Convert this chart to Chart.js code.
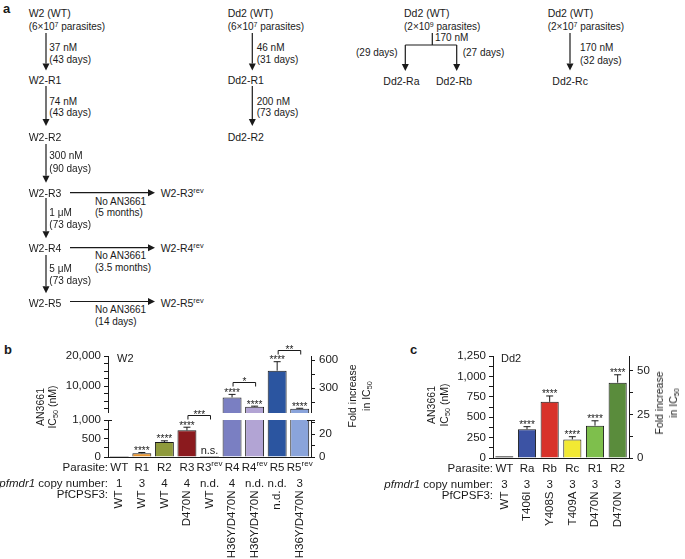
<!DOCTYPE html>
<html>
<head>
<meta charset="utf-8">
<script src="https://cdn.jsdelivr.net/npm/chart.js@4"></script>
<style>
body { margin: 0; background: #fff; }
#fig { position: relative; width: 685px; height: 559px; overflow: hidden; background: #fff;
       font-family: "Liberation Sans", Arial, sans-serif; color: #1a1a1a; }
.t { position: absolute; white-space: nowrap; line-height: 1; transform: translateY(-50%); font-size: 10.5px; }
.s { font-size: 10px; }
.lbl { position: absolute; font-weight: bold; font-size: 13px; line-height: 1; }
.rot { position: absolute; white-space: nowrap; text-align: center; font-size: 10.5px;
       transform: translate(-50%, -50%) rotate(-90deg); }
sup { font-size: 0.7em; vertical-align: 0.5em; line-height: 0; }
sub { font-size: 0.7em; vertical-align: -0.25em; line-height: 0; }
canvas { position: absolute; }
svg { position: absolute; left: 0; top: 0; }
</style>
</head>
<body>
<div id="fig">
  <svg id="scheme" width="685" height="330"></svg>
  <div class="lbl" style="left:3px;top:2px">a</div>
  <div class="lbl" style="left:4px;top:343px">b</div>
  <div class="lbl" style="left:410px;top:343px">c</div>

  <canvas id="bTop" width="380" height="83" style="left:0;top:330px"></canvas>
  <canvas id="bLow" width="380" height="164" style="left:0;top:395px"></canvas>
  <canvas id="cDd2" width="305" height="229" style="left:380px;top:330px"></canvas>

  <div class="t" style="left:117px;top:358px;font-size:11px">W2</div>
  <div class="t" style="left:501px;top:358px;font-size:11px">Dd2</div>
  <div class="rot" style="left:46px;top:407px;line-height:12px">AN3661<br>IC<sub>50</sub> (nM)</div>
  <div class="rot" style="left:359px;top:396px;line-height:14px">Fold increase<br>in IC<sub>50</sub></div>
  <div class="rot" style="left:438px;top:405px;line-height:13px">AN3661<br>IC<sub>50</sub> (nM)</div>
  <div class="rot" style="left:666px;top:403px;line-height:14px">Fold increase<br>in IC<sub>50</sub></div>
</div>

<script>
// ==========================================
// DONNÉES
// ==========================================

const ink = "#1a1a1a";
const FONT = '"Liberation Sans", Arial, sans-serif';

// panel b : lignée W2
const w2Names = ["WT", "R1", "R2", "R3", "R3", "R4", "R4", "R5", "R5"];
const w2Sup = ["", "", "", "", "rev", "", "rev", "", "rev"];
const w2IC50 = [30, 100, 405, 720, 30, 6200, 3100, 15100, 2450];
const w2Err = [0, 22, 32, 85, 0, 1000, 180, 3000, 120];
const w2Copy = ["1", "3", "4", "4", "n.d.", "4", "n.d.", "n.d.", "3"];
const w2Cpsf3 = ["WT", "WT", "WT", "D470N", "WT", "H36Y/D470N", "H36Y/D470N", "n.d.", "H36Y/D470N"];
const w2Stars = ["", "****", "****", "****", "n.s.", "****", "****", "****", "****"];
const w2Pairs = [[3, 4, "***"], [5, 6, "*"], [7, 8, "**"]];
const w2Colors = ["#111111", "#e8952f", "#8f9a3c", "#8b1a1e", "#111111", "#7a7fc2", "#b2a4d4", "#2b55a0", "#8aa4db"];
const w2Fold = 31;       // IC50 du WT (nM) pour l'axe "fold"
const w2Break = 1000;    // coupure de l'axe

// panel c : lignée Dd2
const dd2Names = ["WT", "Ra", "Rb", "Rc", "R1", "R2"];
const dd2Sup = ["", "", "", "", "", ""];
const dd2IC50 = [20, 352, 688, 228, 396, 923];
const dd2Err = [0, 32, 72, 33, 60, 97];
const dd2Copy = ["3", "3", "3", "3", "3", "3"];
const dd2Cpsf3 = ["WT", "T406I", "Y408S", "T409A", "D470N", "D470N"];
const dd2Stars = ["", "****", "****", "****", "****", "****"];
const dd2Colors = ["#111111", "#3c53a4", "#d8322a", "#f2e933", "#7ebf4c", "#5a8c3c"];
const dd2Fold = 21.4;

// graduations
const w2TopTicks = [2500, 5000, 7500, 10000, 12500, 15000, 17500, 20000];
const w2TopLabels = [10000, 20000];
const w2LowTicks = [0, 250, 500, 750, 1000];
const w2LowLabels = [0, 500, 1000];
const foldTopTicks = [150, 300, 450, 600];
const foldTopLabels = [300, 600];
const foldLowTicks = [0, 10, 20, 30];
const foldLowLabels = [0, 20];
const dd2Ticks = [0, 125, 250, 375, 500, 625, 750, 875, 1000, 1125, 1250];
const dd2Labels = [0, 250, 500, 750, 1000, 1250];
const dd2FoldTicks = [0, 12.5, 25, 37.5, 50];
const dd2FoldLabels = [0, 25, 50];

// ==========================================
// SCHÉMA (panel a)
// ==========================================

const schemeText = [
    [28.7, 13.3, "W2 (WT)"], [28.7, 26.7, "(6×10<sup>7</sup> parasites)", "s"],
    [49.3, 48.3, "37 nM", "s"], [49.3, 59.8, "(43 days)", "s"],
    [28.7, 80, "W2-R1"],
    [49.3, 101.7, "74 nM", "s"], [49.3, 113.3, "(43 days)", "s"],
    [28.7, 136.7, "W2-R2"],
    [49.3, 156, "300 nM", "s"], [49.3, 169, "(90 days)", "s"],
    [28.7, 193.3, "W2-R3"], [160.7, 193, "W2-R3<sup>rev</sup>"],
    [95, 201.7, "No AN3661", "s"], [95, 213, "(5 months)", "s"],
    [49.3, 213.3, "1 μM", "s"], [49.3, 225, "(73 days)", "s"],
    [28.7, 248.3, "W2-R4"], [160.7, 248, "W2-R4<sup>rev</sup>"],
    [95, 256, "No AN3661", "s"], [95, 267.7, "(3.5 months)", "s"],
    [49.3, 269.3, "5 μM", "s"], [49.3, 280.7, "(73 days)", "s"],
    [28.7, 302.7, "W2-R5"], [160.7, 302.5, "W2-R5<sup>rev</sup>"],
    [95, 310, "No AN3661", "s"], [95, 321.7, "(14 days)", "s"],
    [227.7, 13.3, "Dd2 (WT)"], [227.7, 26.7, "(6×10<sup>7</sup> parasites)", "s"],
    [256.7, 48.3, "46 nM", "s"], [256.7, 59.8, "(31 days)", "s"],
    [227.7, 80, "Dd2-R1"],
    [256.7, 101.7, "200 nM", "s"], [256.7, 113.3, "(73 days)", "s"],
    [227.7, 136.7, "Dd2-R2"],
    [404, 13.3, "Dd2 (WT)"], [404, 26.7, "(2×10<sup>9</sup> parasites)", "s"],
    [435, 38.3, "170 nM", "s"],
    [356, 52.7, "(29 days)", "s"], [462.7, 52.7, "(27 days)", "s"],
    [383.3, 81, "Dd2-Ra"], [436, 81, "Dd2-Rb"],
    [547.7, 13.3, "Dd2 (WT)"], [547.7, 26.7, "(2×10<sup>7</sup> parasites)", "s"],
    [580, 48.3, "170 nM", "s"], [580, 60.7, "(32 days)", "s"],
    [552.3, 81, "Dd2-Rc"]
];

// [x1, y1, x2, y2, pointe]
const schemeArrows = [
    [46, 33, 46, 70.5, 1], [46, 86, 46, 126, 1], [46, 144, 46, 182.7, 1],
    [46, 198, 46, 238.3, 1], [46, 255, 46, 293.3, 1],
    [70, 192.7, 155, 192.7, 1], [70, 247.7, 155, 247.7, 1], [70, 301.5, 155, 301.5, 1],
    [252.3, 33, 252.3, 70.5, 1], [252.3, 86, 252.3, 126, 1],
    [432.3, 33, 432.3, 45, 0], [405.3, 45, 456.7, 45, 0],
    [405.3, 45, 405.3, 71, 1], [456.7, 45, 456.7, 71, 1],
    [570, 33, 570, 70.5, 1]
];

const fig = document.getElementById("fig");
schemeText.forEach(([x, y, html, cls]) => {
    const d = document.createElement("div");
    d.className = "t" + (cls ? " " + cls : "");
    d.style.left = x + "px";
    d.style.top = y + "px";
    d.innerHTML = html;
    fig.appendChild(d);
});

let svg = "";
schemeArrows.forEach(([x1, y1, x2, y2, head]) => {
    const vert = x1 === x2;
    const len = 7, hw = 3.5;
    const ex = head && !vert ? x2 - len : x2;
    const ey = head && vert ? y2 - len : y2;
    svg += `<line x1="${x1}" y1="${y1}" x2="${ex}" y2="${ey}" stroke="${ink}" stroke-width="1.2"/>`;
    if (head) {
        const pts = vert
            ? `${x2 - hw},${y2 - len} ${x2 + hw},${y2 - len} ${x2},${y2}`
            : `${x2 - len},${y2 - hw} ${x2 - len},${y2 + hw} ${x2},${y2}`;
        svg += `<polygon points="${pts}" fill="${ink}"/>`;
    }
});
document.getElementById("scheme").innerHTML = svg;

// ==========================================
// OUTILS GRAPHIQUES
// ==========================================

Chart.defaults.font.family = FONT;
Chart.defaults.color = ink;

function yAxis(pos, min, max, ticks, labels, width) {
    return {
        position: pos,
        min: min,
        max: max,
        afterBuildTicks: s => { s.ticks = ticks.map(v => ({ value: v })); },
        afterFit: s => {
            s.width = width;
            s.paddingTop = 0; s.paddingBottom = 0; s.paddingLeft = 0; s.paddingRight = 0;
        },
        ticks: {
            autoSkip: false,
            padding: pos === "left" ? 3 : 4,
            color: ink,
            font: { size: 11.5 },
            callback: v => labels.includes(v) ? v.toLocaleString("en-US") : ""
        },
        grid: { drawOnChartArea: false, tickLength: 4, color: ink, lineWidth: 1 },
        border: { color: ink, width: 1 }
    };
}

const xHidden = { display: false };
const xBase = {
    grid: { drawOnChartArea: false, drawTicks: false, color: ink },
    ticks: { display: false },
    border: { color: ink, width: 1 },
    afterFit: s => { s.height = 0; s.paddingLeft = 0; s.paddingRight = 0; }
};

// barres d'erreur, étoiles, crochets
function marks(vals, errs, stars, pairs, keep) {
    return {
        id: "marks",
        afterDatasetsDraw(chart) {
            const ctx = chart.ctx;
            const y = chart.scales.y, x = chart.scales.x;
            const top = i => y.getPixelForValue(vals[i] + errs[i]);
            ctx.save();
            ctx.strokeStyle = ink;
            ctx.fillStyle = ink;
            ctx.lineWidth = 1;
            ctx.textAlign = "center";
            ctx.textBaseline = "alphabetic";
            vals.forEach((v, i) => {
                if (!keep(vals[i] + errs[i])) return;
                const cx = x.getPixelForValue(i);
                const y0 = y.getPixelForValue(v), y1 = top(i);
                if (errs[i] > 0) {
                    ctx.beginPath();
                    ctx.moveTo(cx, y0); ctx.lineTo(cx, y1);
                    ctx.moveTo(cx - 3.5, y1); ctx.lineTo(cx + 3.5, y1);
                    ctx.stroke();
                }
                if (stars[i] === "n.s.") {
                    ctx.font = "11px " + FONT;
                    ctx.fillText(stars[i], cx, y1 - 1.5);
                } else if (stars[i]) {
                    ctx.font = "10px " + FONT;
                    ctx.fillText(stars[i], cx, y1 + 1.5);
                }
            });
            pairs.forEach(([a, b, txt]) => {
                if (!keep(Math.max(vals[a] + errs[a], vals[b] + errs[b]))) return;
                const xa = x.getPixelForValue(a) + 1, xb = x.getPixelForValue(b) + 1;
                const yb = Math.round(Math.min(top(a), top(b)) - 12) + 0.5;
                ctx.beginPath();
                ctx.moveTo(xa, yb + 4); ctx.lineTo(xa, yb); ctx.lineTo(xb, yb); ctx.lineTo(xb, yb + 4);
                ctx.stroke();
                ctx.font = "10px " + FONT;
                ctx.fillText(txt, (xa + xb) / 2, yb + 2);
            });
            ctx.restore();
        }
    };
}

// petites marques de coupure de l'axe
function breakMarks(edge) {
    return {
        id: "breakMarks",
        afterDraw(chart) {
            const { ctx, chartArea } = chart;
            const yy = Math.round(chartArea[edge]) + 0.5;
            ctx.save();
            ctx.strokeStyle = ink;
            ctx.lineWidth = 1;
            ctx.beginPath();
            [chartArea.left, chartArea.right].forEach(ax => {
                ctx.moveTo(ax - 4, yy); ctx.lineTo(ax + 4, yy);
            });
            ctx.stroke();
            ctx.restore();
        }
    };
}

// lignes du tableau sous les barres
function rows(names, sups, copies, cpsf) {
    return {
        id: "rows",
        afterDraw(chart) {
            const { ctx, chartArea: { left, bottom } } = chart;
            const x = chart.scales.x;
            const f = (s, it) => (it ? "italic " : "") + s + "px " + FONT;
            const y1 = bottom + 10.5, y2 = bottom + 26.5, y3 = bottom + 37.5, yr = bottom + 33.5;
            ctx.save();
            ctx.fillStyle = ink;
            ctx.textBaseline = "middle";
            ctx.textAlign = "right";
            ctx.font = f(11.5);
            ctx.fillText("Parasite:", left, y1);
            ctx.fillText("PfCPSF3:", left, y3);
            ctx.fillText("copy number:", left, y2);
            const w = ctx.measureText(" copy number:").width;
            ctx.font = f(11.5, true);
            ctx.fillText("pfmdr1", left - w, y2);

            names.forEach((n, i) => {
                const cx = x.getPixelForValue(i);
                ctx.font = f(11.5);
                const wn = ctx.measureText(n).width;
                ctx.font = f(8);
                const ws = sups[i] ? ctx.measureText(sups[i]).width : 0;
                const x0 = cx - (wn + ws) / 2;
                ctx.textAlign = "left";
                ctx.font = f(11.5);
                ctx.fillText(n, x0, y1);
                if (sups[i]) {
                    ctx.font = f(8);
                    ctx.fillText(sups[i], x0 + wn, y1 - 3.5);
                }
                ctx.textAlign = "center";
                ctx.font = f(11.5);
                ctx.fillText(copies[i], cx, y2);
                ctx.save();
                ctx.translate(cx, yr);
                ctx.rotate(-Math.PI / 2);
                ctx.textAlign = "right";
                ctx.fillText(cpsf[i], 0, 0);
                ctx.restore();
            });
            ctx.restore();
        }
    };
}

const common = {
    responsive: false,
    animation: false,
    events: [],
    plugins: { legend: { display: false }, tooltip: { enabled: false } }
};

// ==========================================
// PANEL B - partie haute
// ==========================================

new Chart(document.getElementById("bTop"), {
    type: "bar",
    data: {
        labels: w2Names,
        datasets: [{
            data: w2IC50.map(v => v > w2Break ? v : null),
            backgroundColor: w2Colors,
            borderColor: ink,
            borderWidth: 1,
            barPercentage: 0.84,
            categoryPercentage: 1
        }]
    },
    options: {
        ...common,
        layout: { padding: { top: 26, bottom: 0, left: 0, right: 0 } },
        scales: {
            x: xHidden,
            y: yAxis("left", w2Break, 20000, w2TopTicks, w2TopLabels, 108),
            y2: yAxis("right", w2Break / w2Fold, 20000 / w2Fold, foldTopTicks, foldTopLabels, 69)
        }
    },
    plugins: [marks(w2IC50, w2Err, w2Stars, w2Pairs, t => t > w2Break), breakMarks("bottom")]
});

// ==========================================
// PANEL B - partie basse
// ==========================================

new Chart(document.getElementById("bLow"), {
    type: "bar",
    data: {
        labels: w2Names,
        datasets: [{
            data: w2IC50,
            backgroundColor: w2Colors,
            borderColor: ink,
            borderWidth: 1,
            barPercentage: 0.84,
            categoryPercentage: 1,
            clip: 0
        }]
    },
    options: {
        ...common,
        layout: { padding: { top: 25, bottom: 102, left: 0, right: 0 } },
        scales: {
            x: xBase,
            y: yAxis("left", 0, w2Break, w2LowTicks, w2LowLabels, 108),
            y2: yAxis("right", 0, w2Break / w2Fold, foldLowTicks, foldLowLabels, 69)
        }
    },
    plugins: [marks(w2IC50, w2Err, w2Stars, w2Pairs, t => t <= w2Break), breakMarks("top"),
              rows(w2Names, w2Sup, w2Copy, w2Cpsf3)]
});

// ==========================================
// PANEL C - Dd2
// ==========================================

new Chart(document.getElementById("cDd2"), {
    type: "bar",
    data: {
        labels: dd2Names,
        datasets: [{
            data: dd2IC50,
            backgroundColor: dd2Colors,
            borderColor: ink,
            borderWidth: 1,
            barPercentage: 0.8,
            categoryPercentage: 1
        }]
    },
    options: {
        ...common,
        layout: { padding: { top: 26, bottom: 101, left: 0, right: 0 } },
        scales: {
            x: xBase,
            y: yAxis("left", 0, 1250, dd2Ticks, dd2Labels, 113),
            y2: yAxis("right", 0, 1250 / dd2Fold, dd2FoldTicks, dd2FoldLabels, 56)
        }
    },
    plugins: [marks(dd2IC50, dd2Err, dd2Stars, [], () => true),
              rows(dd2Names, dd2Sup, dd2Copy, dd2Cpsf3)]
});
</script>
</body>
</html>
